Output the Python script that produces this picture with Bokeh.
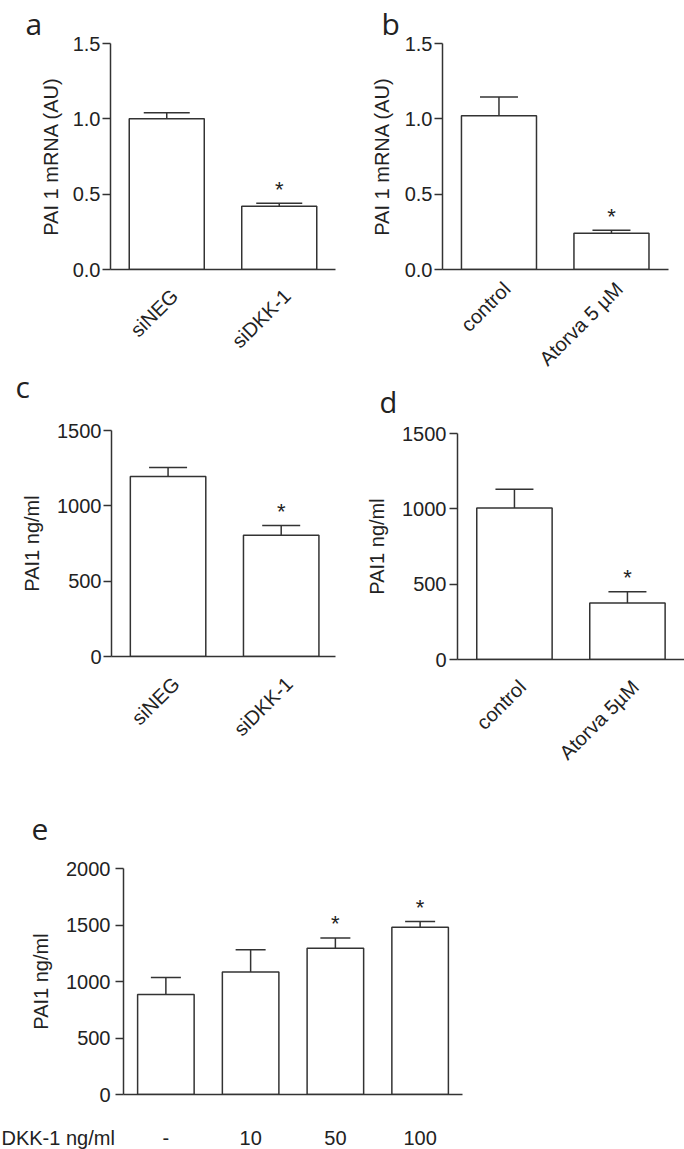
import math
from bokeh.plotting import figure
from bokeh.models import ColumnDataSource, Range1d, FixedTicker, Whisker, TeeHead
from bokeh.layouts import column, row
from bokeh.core.properties import value
from bokeh.embed import file_html
from bokeh.resources import INLINE

# ---------------- data ----------------
cats_a = ["siNEG", "siDKK-1"]
vals_a = [1.00, 0.42]
errs_a = [0.04, 0.02]
stars_a = ["", "*"]

cats_b = ["control", "Atorva 5 µM"]
vals_b = [1.02, 0.24]
errs_b = [0.125, 0.02]
stars_b = ["", "*"]

cats_c = ["siNEG", "siDKK-1"]
vals_c = [1195, 805]
errs_c = [60, 65]
stars_c = ["", "*"]

cats_d = ["control", "Atorva 5µM"]
vals_d = [1005, 375]
errs_d = [125, 75]
stars_d = ["", "*"]

cats_e = ["-", "10", "50", "100"]
vals_e = [885, 1085, 1295, 1480]
errs_e = [150, 195, 90, 50]
stars_e = ["", "", "*", "*"]
xlabel_e = "DKK-1 ng/ml"

yticks_mrna = [0, 0.5, 1.0, 1.5]
ytick_labels_mrna = ["0.0", "0.5", "1.0", "1.5"]
yticks_prot = [0, 500, 1000, 1500]
ytick_labels_prot = ["0", "500", "1000", "1500"]
yticks_e = [0, 500, 1000, 1500, 2000]
ytick_labels_e = ["0", "500", "1000", "1500", "2000"]

ylab_mrna = "PAI 1 mRNA (AU)"
ylab_prot = "PAI1 ng/ml"
letters = ["a", "b", "c", "d", "e"]

# ---------------- style ----------------
LINE = "#333333"
TEXT = "#222222"
FONT = "Liberation Sans"
LFONT = "Open Sans"
PAGE_W = 684
LETTER_PX = 30
LABEL_PX = 20
BASE_FIX = 0.37   # svg text baseline correction (fraction of font size)


def make_panel(cats, vals, errs, stars, yticks, ytlabels, ylab,
               W, H, bl, br, bt, bb, x0, x1, head, tick_standoff, lab_standoff,
               xlab_standoff=20, rotate=True, letter=None, letter_x=None):
    ymax = yticks[-1]
    p = figure(width=W, height=H, x_range=Range1d(x0, x1), y_range=Range1d(0, ymax),
               output_backend="svg", toolbar_location=None,
               min_border_left=bl, min_border_right=br,
               min_border_top=bt, min_border_bottom=bb)
    p.outline_line_color = None
    p.grid.visible = False
    if letter is not None:
        # panel letter as the plot title, pulled left over the axis area
        # (letter_x is measured from the left edge of this plot)
        p.title.text = letter
        p.title.text_font = LFONT
        p.title.text_font_size = f"{LETTER_PX}px"
        p.title.text_font_style = "normal"
        p.title.text_color = TEXT
        p.title.align = "left"
        p.title.standoff = 0
        p.title.offset = letter_x - bl

    xs = list(range(1, len(cats) + 1))
    src = ColumnDataSource(dict(x=xs, top=vals,
                                upper=[v + e for v, e in zip(vals, errs)],
                                star=stars))
    p.vbar(x="x", top="top", bottom=0, width=0.667, source=src,
           fill_color="white", line_color=LINE, line_width=1.5)
    w = Whisker(source=src, base="x", lower="top", upper="upper", dimension="height",
                line_color=LINE, line_width=1.5,
                upper_head=TeeHead(size=head, line_color=LINE, line_width=1.5),
                lower_head=None)
    p.add_layout(w)
    p.text(x="x", y="upper", text="star", source=src,
           text_font=value(FONT), text_font_size="22px", text_color=TEXT,
           text_align="center", text_baseline="alphabetic", y_offset=-14)

    ya = p.yaxis[0]
    ya.ticker = FixedTicker(ticks=yticks)
    ya.major_label_overrides = {t: l for t, l in zip(yticks, ytlabels)}
    ya.axis_label = ylab
    ya.axis_label_text_font = FONT
    ya.axis_label_text_font_size = "20px"
    ya.axis_label_text_font_style = "normal"
    ya.axis_label_text_color = TEXT
    ya.axis_label_standoff = lab_standoff
    ya.major_label_standoff = tick_standoff
    ya.major_label_text_font = FONT
    ya.major_label_text_font_size = "20px"
    ya.major_label_text_color = TEXT
    ya.major_tick_out = 8
    ya.major_tick_in = 0
    ya.minor_tick_line_color = None
    ya.axis_line_color = LINE
    ya.axis_line_width = 1.5
    ya.major_tick_line_color = LINE
    ya.major_tick_line_width = 1.5

    xa = p.xaxis[0]
    xa.axis_line_color = LINE
    xa.axis_line_width = 1.5
    xa.major_tick_line_color = None
    xa.minor_tick_line_color = None
    xa.major_tick_out = 0
    xa.major_tick_in = 0
    if rotate:
        # rotated labels end a little right of the bar centre, as in the original
        shift = 0.07
        ticks = [round(x + shift, 3) for x in xs]
        xa.ticker = FixedTicker(ticks=ticks)
        xa.major_label_overrides = {t: c for t, c in zip(ticks, cats)}
        xa.major_label_orientation = math.pi / 4
        xa.major_label_standoff = xlab_standoff
        xa.major_label_text_font = FONT
        xa.major_label_text_font_size = "20px"
        xa.major_label_text_color = TEXT
    else:
        xa.ticker = FixedTicker(ticks=[])
        xa.major_label_standoff = 0
    return p, xs


def strip(width, height, x_range, y_top, y_bottom):
    s = figure(width=width, height=height, x_range=x_range,
               y_range=Range1d(y_bottom, y_top),
               output_backend="svg", toolbar_location=None,
               x_axis_location=None, y_axis_location=None,
               min_border_left=0, min_border_right=0, min_border_top=0, min_border_bottom=0)
    s.outline_line_color = None
    s.grid.visible = False
    return s


def letter_text(s, xs, ys, txts, size=LETTER_PX):
    src = ColumnDataSource(dict(x=xs, y=ys, t=txts))
    s.text(x="x", y="y", text="t", source=src, text_font=value(LFONT),
           text_font_size=f"{size}px", text_color=TEXT, text_align="left",
           text_baseline="alphabetic", y_offset=-round(BASE_FIX * size))


# ---------------- layout (page pixels) ----------------
# left column: a (y 0..363, frame 43..269), letter c (363..412), c (412..775, frame 430..656)
fa, _ = make_panel(cats_a, vals_a, errs_a, stars_a, yticks_mrna, ytick_labels_mrna, ylab_mrna,
                   340, 363, 110, 5, 43, 94, 0.5, 2.5, 46, 2, 8, xlab_standoff=23,
                   letter=letters[0], letter_x=25)
sc = strip(340, 49, Range1d(0, 340), 363, 412)
letter_text(sc, [15], [397], letters[2:3])
fc, _ = make_panel(cats_c, vals_c, errs_c, stars_c, yticks_prot, ytick_labels_prot, ylab_prot,
                   340, 363, 111, 5, 18, 119, 0.5, 2.48, 38, 2, 11, xlab_standoff=24)

# right column (starts at x=340): b (y 0..381, frame 43..269), letter d (381..421), d (421..775)
fb, _ = make_panel(cats_b, vals_b, errs_b, stars_b, yticks_mrna, ytick_labels_mrna, ylab_mrna,
                   344, 381, 102, 16, 43, 112, 0.498, 2.507, 38, 2, 9, xlab_standoff=16,
                   letter=letters[1], letter_x=41)
sd = strip(344, 40, Range1d(340, PAGE_W), 381, 421)
letter_text(sd, [379], [412], letters[3:4], size=29)
fd, _ = make_panel(cats_d, vals_d, errs_d, stars_d, yticks_prot, ytick_labels_prot, ylab_prot,
                   344, 354, 117, 0, 12, 116, 0.496, 2.505, 38, 3, 11, xlab_standoff=24)

# strip 3 (letter e): y 775..850
s3 = strip(PAGE_W, 75, Range1d(0, PAGE_W), 775, 850)
letter_text(s3, [31], [840], letters[4:5])

# panel e: y 850..1106, frame x 123..462, y 868..1094
E_LEFT, E_FRAME_W, E_RIGHT = 123, 339, 222
e_x0, e_x1 = 0.5, 4.5
fe, xs_e = make_panel(cats_e, vals_e, errs_e, stars_e, yticks_e, ytick_labels_e, ylab_prot,
                      PAGE_W, 256, E_LEFT, E_RIGHT, 18, 12, e_x0, e_x1, 30, 5, 11, rotate=False)

# strip 4: dose labels under panel e, sharing e's x scale; y 1106..1149
unit = E_FRAME_W / (e_x1 - e_x0)
s4_range = Range1d(e_x0 - E_LEFT / unit, e_x1 + E_RIGHT / unit)
s4 = strip(PAGE_W, 43, s4_range, 1106, 1149)
yoff = -round(BASE_FIX * LABEL_PX)
s4.text(x=xs_e, y=[1144] * len(xs_e), text=cats_e, text_font=value(FONT),
        text_font_size=f"{LABEL_PX}px", text_color=TEXT, text_align="center",
        text_baseline="alphabetic", y_offset=yoff)
s4.text(x=[s4_range.start + 1 / unit], y=[1144], text=[xlabel_e], text_font=value(FONT),
        text_font_size=f"{LABEL_PX}px", text_color=TEXT, text_align="left",
        text_baseline="alphabetic", y_offset=yoff)

# every plot sits in its own row so that plot frames are not aligned across them
col_left = column(row(fa), row(sc), row(fc))
col_right = column(row(fb), row(sd), row(fd))
layout = column(row(col_left, col_right), row(s3), row(fe), row(s4))

open("out.html", "w").write(file_html(layout, INLINE))
